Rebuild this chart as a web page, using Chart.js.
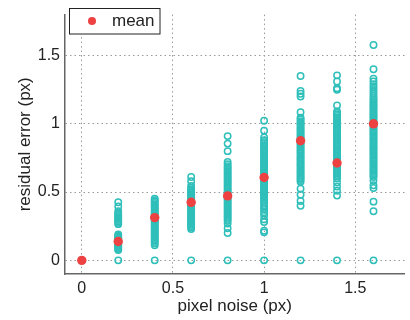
<!DOCTYPE html>
<html>
<head>
<meta charset="utf-8">
<title>residual error vs pixel noise</title>
<script src="https://cdn.jsdelivr.net/npm/chart.js@4"></script>
<style>
  html, body { margin: 0; padding: 0; background: #fff; }
  canvas { display: block; }
</style>
</head>
<body>
<canvas id="chart" width="410" height="320"></canvas>
<script>
// pixel noise levels (x) and the residual error of every trial at that level
const noiseLevels = [0, 0.2, 0.4, 0.6, 0.8, 1.0, 1.2, 1.4, 1.6];

const err00 = [0, 0, 0, 0];
const err02 = [0, 0.075, 0.082, 0.09, 0.097, 0.105, 0.112, 0.12, 0.128, 0.135, 0.143, 0.15,
    0.158, 0.165, 0.173, 0.18, 0.19, 0.265, 0.275, 0.285, 0.295, 0.305, 0.315, 0.325,
    0.335, 0.345, 0.36, 0.395, 0.425];
const err04 = [0, 0.11, 0.124, 0.135, 0.146, 0.155, 0.166, 0.177, 0.186, 0.197, 0.206, 0.217,
    0.228, 0.237, 0.248, 0.257, 0.268, 0.279, 0.288, 0.299, 0.308, 0.319, 0.33, 0.339,
    0.35, 0.359, 0.37, 0.381, 0.39, 0.401, 0.41, 0.421, 0.432, 0.441, 0.452];
const err06 = [0, 0.23, 0.24, 0.252, 0.261, 0.27, 0.282, 0.29, 0.3, 0.312, 0.32, 0.331, 0.34,
    0.352, 0.36, 0.371, 0.38, 0.392, 0.4, 0.41, 0.421, 0.43, 0.442, 0.45, 0.46, 0.471,
    0.48, 0.491, 0.5, 0.51, 0.52, 0.53, 0.545, 0.58, 0.61];
const err08 = [0, 0.2, 0.235, 0.27, 0.29, 0.302, 0.315, 0.327, 0.34, 0.352, 0.365, 0.377, 0.39,
    0.402, 0.415, 0.427, 0.44, 0.452, 0.465, 0.477, 0.49, 0.502, 0.515, 0.527, 0.54,
    0.552, 0.565, 0.577, 0.59, 0.602, 0.615, 0.627, 0.64, 0.652, 0.665, 0.677, 0.69,
    0.705, 0.72, 0.8, 0.855, 0.91];
const err10 = [0, 0.205, 0.217, 0.28, 0.3, 0.33, 0.352, 0.37, 0.385, 0.4, 0.418, 0.43, 0.443,
    0.456, 0.468, 0.48, 0.493, 0.506, 0.518, 0.53, 0.543, 0.555, 0.567, 0.58, 0.592,
    0.605, 0.617, 0.63, 0.642, 0.655, 0.667, 0.68, 0.692, 0.705, 0.717, 0.73, 0.742,
    0.755, 0.767, 0.78, 0.792, 0.805, 0.817, 0.83, 0.842, 0.855, 0.867, 0.88, 0.9,
    0.95, 1.023];
const err12 = [0, 0.4, 0.435, 0.48, 0.525, 0.575, 0.588, 0.6, 0.611, 0.624, 0.637, 0.648, 0.66,
    0.672, 0.685, 0.697, 0.708, 0.72, 0.733, 0.745, 0.756, 0.768, 0.781, 0.793, 0.805,
    0.816, 0.828, 0.841, 0.853, 0.864, 0.876, 0.889, 0.901, 0.912, 0.924, 0.937, 0.949,
    0.96, 0.972, 0.985, 0.997, 1.008, 1.02, 1.033, 1.045, 1.085, 1.2, 1.22, 1.24, 1.35];
const err14 = [0, 0.475, 0.51, 0.54, 0.57, 0.6, 0.613, 0.625, 0.636, 0.648, 0.661, 0.673, 0.684,
    0.697, 0.709, 0.72, 0.732, 0.745, 0.757, 0.768, 0.78, 0.793, 0.805, 0.816, 0.829,
    0.84, 0.852, 0.865, 0.877, 0.888, 0.9, 0.913, 0.925, 0.936, 0.948, 0.961, 0.973,
    0.984, 0.996, 1.009, 1.02, 1.032, 1.045, 1.057, 1.068, 1.08, 1.09, 1.135, 1.25,
    1.26, 1.31, 1.355];
const err16 = [0, 0.36, 0.43, 0.53, 0.55, 0.585, 0.61, 0.622, 0.634, 0.647, 0.66, 0.671, 0.683,
    0.696, 0.708, 0.72, 0.731, 0.744, 0.756, 0.769, 0.78, 0.792, 0.805, 0.817, 0.829,
    0.84, 0.853, 0.865, 0.877, 0.889, 0.9, 0.913, 0.925, 0.937, 0.949, 0.96, 0.973,
    0.985, 0.997, 1.009, 1.02, 1.033, 1.045, 1.057, 1.069, 1.08, 1.093, 1.105, 1.117,
    1.129, 1.14, 1.153, 1.165, 1.178, 1.19, 1.205, 1.22, 1.238, 1.255, 1.272, 1.29,
    1.31, 1.33, 1.4, 1.577];
const trialErrors = [err00, err02, err04, err06, err08, err10, err12, err14, err16];

// mean residual error per noise level
const meanErrors = [0, 0.138, 0.313, 0.425, 0.472, 0.607, 0.876, 0.713, 1.0];

const xTicks = [0, 0.5, 1, 1.5];
const xTickLabels = ["0", "0.5", "1", "1.5"];
const yTicks = [0, 0.5, 1, 1.5];
const yTickLabels = ["0", "0.5", "1", "1.5"];

const TEAL = "#2fbfba";
const RED = "#ee4242";
const FONT = "'Liberation Sans', Arial, Helvetica, sans-serif";

// flatten trials into scatter points
const trialPoints = [];
trialErrors.forEach((list, i) => {
    list.forEach((v) => trialPoints.push({ x: noiseLevels[i], y: v }));
});
const meanPoints = noiseLevels.map((x, i) => ({ x: x, y: meanErrors[i] }));

// legend box drawn in the top-left corner of the plot (matlab style)
const boxLegend = {
    id: "boxLegend",
    afterDraw(chart) {
        const ctx = chart.ctx;
        const ds = chart.data.datasets[0];
        ctx.save();
        ctx.fillStyle = "#fff";
        ctx.fillRect(69.5, 8.5, 90.5, 25.5);
        ctx.strokeStyle = "#222";
        ctx.lineWidth = 1;
        ctx.strokeRect(69.5, 8.5, 90.5, 25.5);
        ctx.fillStyle = RED;
        ctx.beginPath();
        ctx.arc(92, 21, 4, 0, Math.PI * 2);
        ctx.fill();
        ctx.fillStyle = "#222";
        ctx.font = "17px " + FONT;
        ctx.textBaseline = "middle";
        ctx.fillText(ds.label, 112, 21.5);
        ctx.restore();
    },
};

const axisFont = { family: FONT, size: 16 };
const titleFont = { family: FONT, size: 17 };

new Chart(document.getElementById("chart").getContext("2d"), {
    type: "scatter",
    data: {
        datasets: [
            {
                label: "mean",
                data: meanPoints,
                pointRadius: 4.7,
                pointBackgroundColor: RED,
                pointBorderWidth: 0,
                order: 0,
            },
            {
                label: "trials",
                data: trialPoints,
                pointRadius: 3.2,
                pointBorderWidth: 1.5,
                pointBorderColor: TEAL,
                pointBackgroundColor: "rgba(0,0,0,0)",
                order: 1,
            },
        ],
    },
    options: {
        responsive: false,
        animation: false,
        devicePixelRatio: 1,
        events: [],
        layout: { padding: { top: 3, right: 0, left: 0, bottom: 0 } },
        plugins: {
            legend: { display: false },
            tooltip: { enabled: false },
        },
        scales: {
            x: {
                type: "linear",
                min: -0.092,
                max: 1.77,
                afterBuildTicks: (s) => { s.ticks = xTicks.map((v) => ({ value: v })); },
                afterFit: (s) => { s.height = 46; },
                ticks: {
                    font: axisFont,
                    color: "#222",
                    padding: 5,
                    callback: (v) => xTickLabels[xTicks.indexOf(v)],
                },
                grid: { color: "#999", lineWidth: 1, drawTicks: false },
                border: { display: true, color: "#666", width: 1.5, dash: [1.5, 3] },
                title: {
                    display: true,
                    text: "pixel noise (px)",
                    font: titleFont,
                    color: "#222",
                    padding: { top: 0, bottom: 3 },
                },
            },
            y: {
                type: "linear",
                min: -0.1,
                max: 1.8,
                afterBuildTicks: (s) => { s.ticks = yTicks.map((v) => ({ value: v })); },
                afterFit: (s) => { s.width = 65; },
                ticks: {
                    font: axisFont,
                    color: "#222",
                    padding: 5,
                    callback: (v) => yTickLabels[yTicks.indexOf(v)],
                },
                grid: { color: "#999", lineWidth: 1, drawTicks: false },
                border: { display: true, color: "#666", width: 1.5, dash: [1.5, 3] },
                title: {
                    display: true,
                    text: "residual error (px)",
                    font: titleFont,
                    color: "#222",
                    padding: { top: 15, bottom: 0 },
                },
            },
        },
    },
    plugins: [boxLegend],
});
</script>
</body>
</html>
